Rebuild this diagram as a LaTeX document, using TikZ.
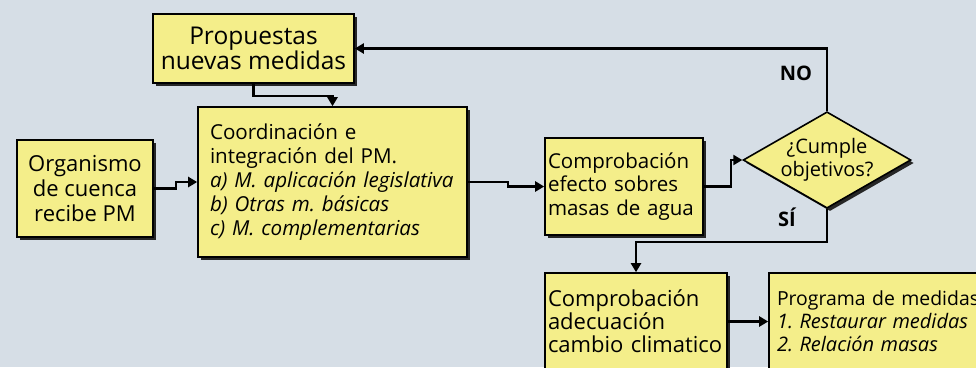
\documentclass[tikz,border=0pt]{standalone}
\usepackage{fontspec}
\setmainfont{Open Sans}
\usetikzlibrary{shapes.geometric,arrows.meta}
\definecolor{bg}{HTML}{D6DEE6}
\definecolor{boxy}{HTML}{F4EE8A}
\tikzset{
  box/.style={draw=black, line width=1.6pt, fill=boxy, rectangle, inner sep=0pt,
    font=\frenchspacing\fontsize{22}{24}\selectfont,
    preaction={fill=black!85, transform canvas={shift={(3pt,-3pt)}}}},
  conn/.style={draw=black, line width=2.2pt, -{Triangle[length=9pt,width=10pt]}},
  lbl/.style={font=\fontsize{20}{24}\selectfont\bfseries, inner sep=0pt}
}
\begin{document}
\begin{tikzpicture}[x=1pt,y=-1pt]
\useasboundingbox (0,0) rectangle (976,367);
\clip (0,0) rectangle (976,367);
\fill[bg] (0,0) rectangle (976,367);

\node[box, minimum width=201pt, minimum height=69pt, align=center,
  font=\fontsize{24.5}{24.5}\selectfont] (prop) at (253.5,48.5)
  {Propuestas\\nuevas medidas};
\node[box, minimum width=136pt, minimum height=97pt, align=center,
  font=\fontsize{22}{25}\selectfont] (org) at (85,188.5)
  {Organismo\\de cuenca\\recibe PM};
\node[box, minimum width=269pt, minimum height=150pt, text width=245pt, align=left,
  font=\frenchspacing\fontsize{20.6}{23.8}\selectfont] (coord) at (332.5,182)
  {Coordinación e\\integración del PM.\\\textit{a) M. aplicación legislativa}\\\textit{b) Otras m. básicas}\\\textit{c) M. complementarias}};
\node[box, minimum width=158pt, minimum height=97pt, text width=152pt, align=left,
  font=\fontsize{20.5}{23.5}\selectfont] (efe) at (624,186.5)
  {Comprobación\\efecto sobres\\masas de agua};
\node[box, diamond, aspect=1.74, minimum width=155pt, minimum height=89pt, align=center,
  font=\fontsize{20}{23}\selectfont] (dia) at (827,160)
  {¿Cumple\\objetivos?};
\node[box, minimum width=182pt, minimum height=97pt, text width=176pt, align=left,
  font=\fontsize{22}{23}\selectfont] (ade) at (636,321.5)
  {Comprobación\\adecuación\\cambio climatico};
\node[box, minimum width=240pt, minimum height=97pt, text width=224pt, align=left,
  font=\frenchspacing\fontsize{19.4}{23}\selectfont] (prog) at (889,321.5)
  {Programa de medidas:\\{\fontsize{20}{23}\selectfont\itshape 1. Restaurar medidas}\\{\fontsize{20}{23}\selectfont\itshape 2. Relación masas}};

\draw[conn] (dia.north) |- (prop.east);
\draw[conn] (prop.south) -- ++(0,12) -| (coord.north);
\draw[conn] (org.east) -- ++(22,0) |- (coord.west);
\draw[conn] (coord.east) -- ++(40,0) |- (efe.west);
\draw[conn] (efe.east) -- ++(27,0) |- (dia.west);
\draw[conn] (dia.south) -- ++(0,33) -| (ade.north);
\draw[conn] (ade.east) -- (prog.west);

\node[lbl] (no) at (796,73) {NO};
\node[lbl] (si) at (787,217) {SÍ};
\end{tikzpicture}
\end{document}
